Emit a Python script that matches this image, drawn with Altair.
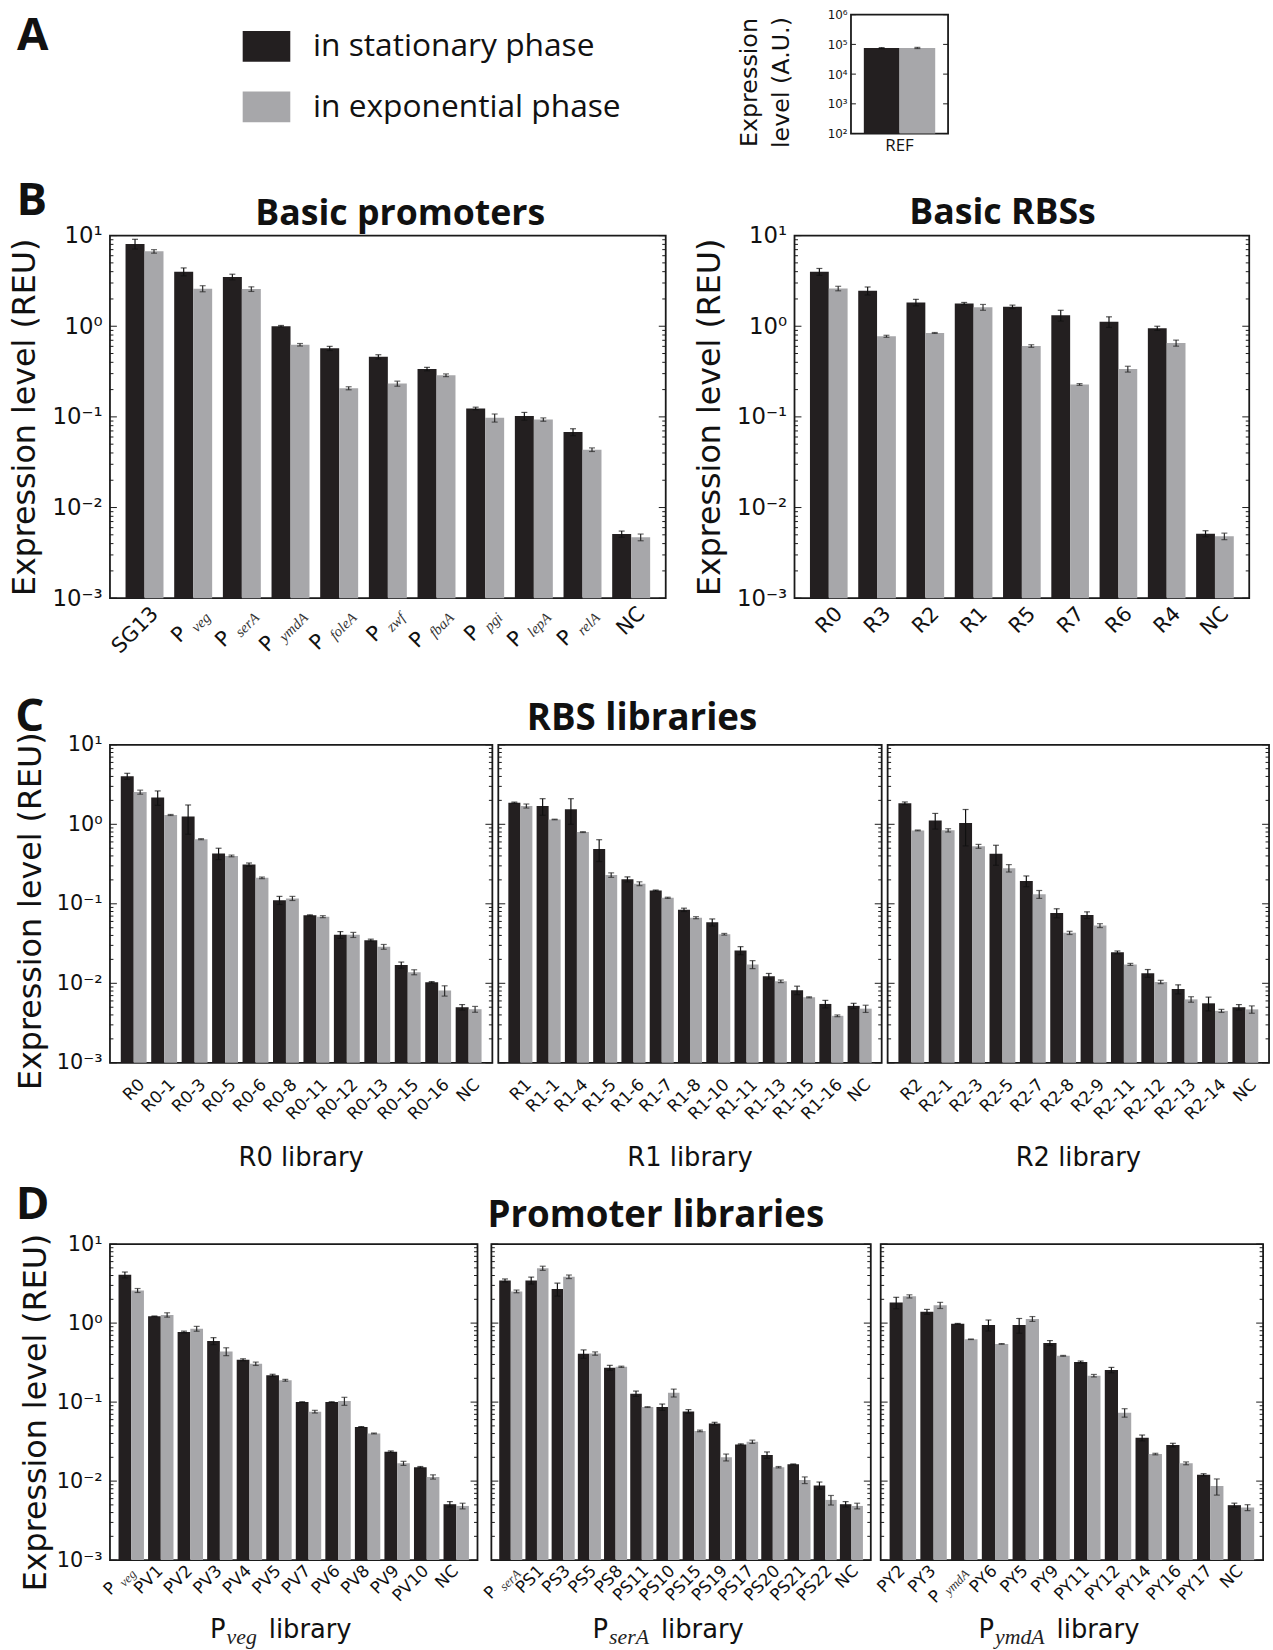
import altair as alt
import pandas as pd

# ---------------------------------------------------------------- data
PHASES = ["in stationary phase", "in exponential phase"]
BAR_COLORS = ["#231f20", "#a7a7aa"]
ERR_COLORS = ["#111111", "#2a2a2a"]
FRAME_COLOR = "#1a1a1a"

Y_TICKS = [0.001, 0.01, 0.1, 1, 10]
Y_TICK_LABELS = ["10⁻³", "10⁻²", "10⁻¹", "10⁰", "10¹"]
REF_TICKS = [1e2, 1e3, 1e4, 1e5, 1e6]
REF_TICK_LABELS = ["10²", "10³", "10⁴", "10⁵", "10⁶"]

# A: reference construct
ref_cats = ["REF"]
ref_stat = [75000]
ref_stat_err = [3000]
ref_expo = [76000]
ref_expo_err = [3500]

# B: basic promoters
bp_cats = ["SG13", "Pveg", "PserA", "PymdA", "PfoleA", "Pzwf", "PfbaA", "Ppgi", "PlepA", "PrelA", "NC"]
bp_main = ["SG13", "P", "P", "P", "P", "P", "P", "P", "P", "P", "NC"]
bp_sub = ["", "veg", "serA", "ymdA", "foleA", "zwf", "fbaA", "pgi", "lepA", "relA", ""]
bp_stat = [8.1, 4.0, 3.5, 1.0, 0.57, 0.46, 0.337, 0.124, 0.102, 0.068, 0.0051]
bp_stat_err = [1.0, 0.4, 0.25, 0.02, 0.03, 0.025, 0.015, 0.004, 0.01, 0.006, 0.0004]
bp_expo = [6.7, 2.6, 2.57, 0.625, 0.207, 0.233, 0.288, 0.0976, 0.0935, 0.0435, 0.0047]
bp_expo_err = [0.3, 0.2, 0.15, 0.02, 0.008, 0.015, 0.01, 0.01, 0.004, 0.002, 0.0004]

# B: basic RBSs
br_cats = ["R0", "R3", "R2", "R1", "R5", "R7", "R6", "R4", "NC"]
br_stat = [3.99, 2.46, 1.83, 1.78, 1.64, 1.32, 1.12, 0.95, 0.00515]
br_stat_err = [0.35, 0.25, 0.15, 0.05, 0.07, 0.18, 0.15, 0.05, 0.0004]
br_expo = [2.61, 0.775, 0.843, 1.62, 0.605, 0.228, 0.337, 0.653, 0.00482]
br_expo_err = [0.15, 0.02, 0.01, 0.12, 0.02, 0.005, 0.025, 0.05, 0.0004]

# C: RBS libraries
c0_cats = ["R0", "R0-1", "R0-3", "R0-5", "R0-6", "R0-8", "R0-11", "R0-12", "R0-13", "R0-15", "R0-16", "NC"]
c0_stat = [4.03, 2.18, 1.25, 0.43, 0.311, 0.111, 0.0716, 0.0407, 0.0349, 0.017, 0.0103, 0.0050]
c0_stat_err = [0.35, 0.45, 0.5, 0.07, 0.015, 0.013, 0.001, 0.004, 0.001, 0.0015, 0.0002, 0.0004]
c0_expo = [2.54, 1.31, 0.65, 0.40, 0.212, 0.117, 0.0689, 0.0407, 0.0288, 0.0138, 0.0081, 0.00472]
c0_expo_err = [0.15, 0.02, 0.01, 0.01, 0.005, 0.007, 0.002, 0.003, 0.002, 0.001, 0.0012, 0.0004]

c1_cats = ["R1", "R1-1", "R1-4", "R1-5", "R1-6", "R1-7", "R1-8", "R1-10", "R1-11", "R1-13", "R1-15", "R1-16", "NC"]
c1_stat = [1.87, 1.70, 1.55, 0.49, 0.203, 0.147, 0.0841, 0.0585, 0.0259, 0.0123, 0.0082, 0.0055, 0.0052]
c1_stat_err = [0.03, 0.4, 0.55, 0.15, 0.015, 0.002, 0.004, 0.006, 0.003, 0.001, 0.001, 0.0006, 0.0004]
c1_expo = [1.70, 1.15, 0.798, 0.230, 0.179, 0.119, 0.0669, 0.0414, 0.0173, 0.0106, 0.00666, 0.0039, 0.0048]
c1_expo_err = [0.1, 0.01, 0.01, 0.015, 0.01, 0.002, 0.002, 0.001, 0.002, 0.0004, 0.0001, 0.0001, 0.0005]

c2_cats = ["R2", "R2-1", "R2-3", "R2-5", "R2-7", "R2-8", "R2-9", "R2-11", "R2-12", "R2-13", "R2-14", "NC"]
c2_stat = [1.84, 1.12, 1.035, 0.425, 0.194, 0.0766, 0.0722, 0.0245, 0.0134, 0.00846, 0.0056, 0.0050]
c2_stat_err = [0.07, 0.25, 0.5, 0.12, 0.03, 0.01, 0.007, 0.001, 0.0015, 0.0011, 0.0011, 0.0004]
c2_expo = [0.838, 0.84, 0.529, 0.281, 0.132, 0.0431, 0.0532, 0.0173, 0.0104, 0.00628, 0.0045, 0.0047]
c2_expo_err = [0.01, 0.04, 0.03, 0.03, 0.015, 0.002, 0.003, 0.0005, 0.0005, 0.0005, 0.0002, 0.0005]

# D: promoter libraries
d0_cats = ["Pveg", "PV1", "PV2", "PV3", "PV4", "PV5", "PV7", "PV6", "PV8", "PV9", "PV10", "NC"]
d0_main = ["P", "PV1", "PV2", "PV3", "PV4", "PV5", "PV7", "PV6", "PV8", "PV9", "PV10", "NC"]
d0_sub = ["veg", "", "", "", "", "", "", "", "", "", "", ""]
d0_stat = [4.08, 1.22, 0.771, 0.594, 0.343, 0.218, 0.100, 0.100, 0.0485, 0.0236, 0.0150, 0.0051]
d0_stat_err = [0.35, 0.01, 0.02, 0.06, 0.01, 0.007, 0.001, 0.001, 0.0005, 0.0005, 0.0003, 0.0004]
d0_expo = [2.59, 1.27, 0.849, 0.437, 0.306, 0.189, 0.0757, 0.103, 0.0401, 0.0168, 0.0113, 0.00485]
d0_expo_err = [0.15, 0.08, 0.06, 0.05, 0.015, 0.005, 0.003, 0.012, 0.0005, 0.001, 0.0007, 0.0004]

d1_cats = ["PserA", "PS1", "PS3", "PS5", "PS8", "PS11", "PS10", "PS15", "PS19", "PS17", "PS20", "PS21", "PS22", "NC"]
d1_main = ["P", "PS1", "PS3", "PS5", "PS8", "PS11", "PS10", "PS15", "PS19", "PS17", "PS20", "PS21", "PS22", "NC"]
d1_sub = ["serA", "", "", "", "", "", "", "", "", "", "", "", "", ""]
d1_stat = [3.47, 3.47, 2.70, 0.408, 0.272, 0.128, 0.0865, 0.0763, 0.0535, 0.0291, 0.0214, 0.0163, 0.00883, 0.0051]
d1_stat_err = [0.15, 0.35, 0.5, 0.05, 0.02, 0.01, 0.008, 0.004, 0.002, 0.0005, 0.002, 0.0002, 0.0009, 0.0004]
d1_expo = [2.52, 4.95, 3.86, 0.412, 0.280, 0.0865, 0.131, 0.0432, 0.020, 0.0315, 0.0150, 0.0103, 0.00578, 0.00485]
d1_expo_err = [0.1, 0.3, 0.2, 0.02, 0.005, 0.001, 0.015, 0.001, 0.002, 0.0015, 0.0003, 0.001, 0.0008, 0.0004]

d2_cats = ["PY2", "PY3", "PymdA", "PY6", "PY5", "PY9", "PY11", "PY12", "PY14", "PY16", "PY17", "NC"]
d2_main = ["PY2", "PY3", "P", "PY6", "PY5", "PY9", "PY11", "PY12", "PY14", "PY16", "PY17", "NC"]
d2_sub = ["", "", "ymdA", "", "", "", "", "", "", "", "", ""]
d2_stat = [1.82, 1.39, 0.98, 0.944, 0.944, 0.561, 0.321, 0.255, 0.0353, 0.0286, 0.0120, 0.00496]
d2_stat_err = [0.3, 0.1, 0.01, 0.15, 0.2, 0.04, 0.01, 0.02, 0.003, 0.0015, 0.0004, 0.0003]
d2_expo = [2.18, 1.68, 0.624, 0.545, 1.13, 0.385, 0.216, 0.0735, 0.0220, 0.0168, 0.00865, 0.00463]
d2_expo_err = [0.1, 0.15, 0.005, 0.005, 0.08, 0.005, 0.008, 0.009, 0.0005, 0.0007, 0.002, 0.0004]

# ---------------------------------------------------------------- helpers
ONE = pd.DataFrame({"k": [0]})
SERIF_IT = dict(a=.5, b=.5, c=.444, d=.5, e=.444, f=.278, g=.5, h=.5, i=.278, j=.278, k=.444,
                l=.278, m=.722, n=.5, o=.5, p=.5, q=.5, r=.389, s=.389, t=.278, u=.5, v=.444,
                w=.667, x=.444, y=.444, z=.389, A=.611)


def sub_width(s, fs):
    return sum(SERIF_IT.get(ch, .5) for ch in s) * fs


def sup_expr(vals, labs):
    parts = [f"datum.value < {v * 3:g} ? '{l}'" for v, l in zip(vals[:-1], labs[:-1])]
    return " : ".join(parts) + f" : '{labs[-1]}'"


def note(text, x, y, font="Open Sans", size=20, weight="normal", align="center",
         baseline="alphabetic", color="#111", style="normal"):
    return alt.Chart(ONE).mark_text(text=text, font=font, fontSize=size, fontWeight=weight,
                                    align=align, baseline=baseline, color=color,
                                    fontStyle=style).encode(x=alt.value(x), y=alt.value(y))


def long_df(cats, stat, stat_err, expo, expo_err):
    recs = []
    for c, v1, e1, v2, e2 in zip(cats, stat, stat_err, expo, expo_err):
        recs.append({"cat": c, "phase": PHASES[0], "val": v1, "lo": v1 - e1, "hi": v1 + e1})
        recs.append({"cat": c, "phase": PHASES[1], "val": v2, "lo": v2 - e2, "hi": v2 + e2})
    return pd.DataFrame(recs)


def bar_layers(df, X, ysc, yaxis, step, pair_frac, base_val):
    """Grouped bars (stationary left, exponential right) with error bars."""
    bw = step * pair_frac / 2
    out = []
    for k, ph in enumerate(PHASES):
        off = (k - 0.5) * bw
        sub = alt.Chart(df).transform_filter(alt.datum.phase == ph)
        out.append(sub.mark_bar(size=bw, xOffset=off, color=BAR_COLORS[k]).encode(
            x=X, y=alt.Y("val:Q", scale=ysc, axis=yaxis), y2=alt.Y2Datum(base_val)))
        out.append(sub.mark_rule(xOffset=off, color=ERR_COLORS[k], strokeWidth=1.2).encode(
            x=X, y=alt.Y("lo:Q", scale=ysc, axis=yaxis), y2="hi:Q"))
        for fld in ("lo", "hi"):
            out.append(sub.mark_tick(xOffset=off, color=ERR_COLORS[k], size=6, thickness=1.2).encode(
                x=X, y=alt.Y(f"{fld}:Q", scale=ysc, axis=yaxis)))
    return out


def tick_layers(ysc, yaxis, W, major, minor, Lmaj=7, Lmin=3.5):
    tdf = pd.DataFrame({"v": major + minor, "kind": ["major"] * len(major) + ["minor"] * len(minor)})
    out = []
    kinds = (("major", Lmaj), ("minor", Lmin)) if minor else (("major", Lmaj),)
    for kind, L in kinds:
        c = alt.Chart(tdf).transform_filter(alt.datum.kind == kind)
        Y = alt.Y("v:Q", scale=ysc, axis=yaxis)
        out.append(c.mark_rule(color=FRAME_COLOR, strokeWidth=1).encode(y=Y, x=alt.value(0), x2=alt.value(L)))
        out.append(c.mark_rule(color=FRAME_COLOR, strokeWidth=1).encode(y=Y, x=alt.value(W), x2=alt.value(W - L)))
    return out


def y_axis(fs, title_fs, title_x, title_y):
    return alt.Axis(values=Y_TICKS, labelExpr=sup_expr(Y_TICKS, Y_TICK_LABELS), ticks=False,
                    domain=False, grid=False, labelFont="DejaVu Sans", labelFontSize=fs,
                    labelColor="#111", labelPadding=8, labelFlush=False,
                    title="Expression level (REU)", titleFont="DejaVu Sans",
                    titleFontSize=title_fs, titleFontWeight="normal", titleColor="#111",
                    titleX=title_x, titleY=title_y, titleAngle=270, titleAlign="center",
                    titleBaseline="alphabetic")


MINOR = [m * 10.0 ** e for e in range(-3, 1) for m in range(2, 10)]


def bar_panel(cats, mains, subs, stat, stat_err, expo, expo_err, W, H, pad_x, pair_frac,
              lab_fs, sub_fs, lab_ax, lab_ay, sub_drop, yaxis=None, notes=()):
    df = long_df(cats, stat, stat_err, expo, expo_err)
    step = W / (len(cats) + 2 * pad_x)
    xsc = alt.Scale(domain=cats, paddingInner=0, paddingOuter=pad_x)
    ysc = alt.Scale(type="log", domain=[Y_TICKS[0], Y_TICKS[-1]], nice=False)
    X = alt.X("cat:N", scale=xsc, axis=None)
    layers = bar_layers(df, X, ysc, yaxis, step, pair_frac, Y_TICKS[0])
    layers += tick_layers(ysc, yaxis, W, Y_TICKS, MINOR)
    ldf = pd.DataFrame({"cat": cats, "main": mains, "sub": subs})
    dx0 = lab_ax * 1.4142
    yv = H + lab_ay + lab_ax
    for s in dict.fromkeys(subs):
        shift = (sub_width(s, sub_fs) + 0.35 * lab_fs) if s else 0
        layers.append(alt.Chart(ldf).transform_filter(alt.datum.sub == s).mark_text(
            angle=315, align="right", baseline="alphabetic", dx=dx0 - shift,
            font="DejaVu Sans", fontSize=lab_fs, color="#111").encode(
            x=X, y=alt.value(yv), text="main:N"))
    if any(subs):
        layers.append(alt.Chart(ldf).transform_filter(alt.datum.sub != "").mark_text(
            angle=315, align="right", baseline="alphabetic", dx=dx0, dy=sub_drop,
            font="Liberation Serif", fontStyle="italic", fontSize=sub_fs, color="#333").encode(
            x=X, y=alt.value(yv), text="sub:N"))
    layers += list(notes)
    return alt.layer(*layers).properties(
        width=W, height=H, view=alt.ViewBackground(stroke=FRAME_COLOR, strokeWidth=1.8))


def lib_title_c(text, W, H):
    return [note(text, W / 2, H + 104, font="DejaVu Sans", size=26)]


def lib_title_d(sub, W, H):
    wP = 0.603 * 26
    wsub = sub_width(sub, 22)
    wlib = 3.218 * 26
    total = wP + 1 + wsub + 12 + wlib
    left = W / 2 - total / 2 - 13
    return [
        note("P", left, H + 79, font="DejaVu Sans", size=26, align="left"),
        note(sub, left + wP + 1, H + 85, font="Liberation Serif", size=22, align="left",
             style="italic", color="#222"),
        note("library", left + wP + 1 + wsub + 12, H + 79, font="DejaVu Sans", size=26, align="left"),
    ]


# ---------------------------------------------------------------- sizes
A_H, B_H, C_H, D_H = 117, 366, 321, 319
REF_H = 120
BL_W, BR_W = 561, 459
C_W = [386, 387, 385]
D_W = [371, 383, 386]
LEG_W = 628
REF_W = 98
Y_FS, YT_FS = 23, 32

# ---------------------------------------------------------------- row A
leg_df = pd.DataFrame({"phase": PHASES})
leg_y = alt.Y("phase:N", scale=alt.Scale(type="point", domain=PHASES, range=[32, 93], padding=0), axis=None)
legend = alt.layer(
    alt.Chart(ONE).mark_rule(opacity=0).encode(x=alt.value(0), x2=alt.value(LEG_W), y=alt.value(60)),
    alt.Chart(leg_df).mark_point(shape="M-1.55,-1H1.55V1H-1.55Z", filled=True, size=961, opacity=1).encode(
        x=alt.value(158), y=leg_y,
        color=alt.Color("phase:N", scale=alt.Scale(domain=PHASES, range=BAR_COLORS), legend=None)),
    alt.Chart(leg_df).mark_text(align="left", baseline="middle", font="Open Sans", fontSize=32,
                                color="#111").encode(x=alt.value(205), y=leg_y, text="phase:N"),
    note("A", -78, 22, font="Open Sans", size=46, weight="bold", baseline="middle"),
).properties(width=LEG_W, height=A_H)

ref_df = long_df(ref_cats, ref_stat, ref_stat_err, ref_expo, ref_expo_err)
ref_ysc = alt.Scale(type="log", domain=[REF_TICKS[0], REF_TICKS[-1]], nice=False)
ref_X = alt.X("cat:N", scale=alt.Scale(domain=ref_cats, paddingInner=0, paddingOuter=0.18),
              axis=alt.Axis(title=None, labelAngle=0, ticks=False, domain=False, labelFont="Open Sans",
                            labelFontSize=17, labelPadding=4, labelColor="#111"))
ref_axis = alt.Axis(values=REF_TICKS, labelExpr=sup_expr(REF_TICKS, REF_TICK_LABELS), ticks=False,
                    domain=False, grid=False, labelFont="DejaVu Sans", labelFontSize=12,
                    labelColor="#111", labelPadding=4, labelFlush=False,
                    title=["Expression", "level (A.U.)"], titleFont="DejaVu Sans", titleFontSize=24,
                    titleFontWeight="normal", titleColor="#111", titleLineHeight=32,
                    titleX=-114, titleY=68, titleAngle=270, titleAlign="center", titleBaseline="top")
ref_step = REF_W / (1 + 2 * 0.18)
ref_chart = alt.layer(
    *bar_layers(ref_df, ref_X, ref_ysc, ref_axis, ref_step, 1.0, REF_TICKS[0]),
    *tick_layers(ref_ysc, ref_axis, REF_W, REF_TICKS, [], Lmaj=5),
).properties(width=REF_W, height=REF_H, view=alt.ViewBackground(stroke=FRAME_COLOR, strokeWidth=1.8))

# ---------------------------------------------------------------- row B
b_left = bar_panel(bp_cats, bp_main, bp_sub, bp_stat, bp_stat_err, bp_expo, bp_expo_err,
                   BL_W, B_H, 0.21, 0.78, 21, 15, 15, 17, 5,
                   yaxis=y_axis(Y_FS, YT_FS, -76, B_H / 2),
                   notes=[note("Basic promoters", 293, -11, size=36, weight="bold"),
                          note("B", -79, -35, size=46, weight="bold", baseline="middle")])
b_right = bar_panel(br_cats, br_cats, [""] * len(br_cats), br_stat, br_stat_err, br_expo, br_expo_err,
                    BR_W, B_H, 0.21, 0.78, 21, 15, 15, 17, 5,
                    yaxis=y_axis(Y_FS, YT_FS, -76, B_H / 2),
                    notes=[note("Basic RBSs", 210, -12, size=36, weight="bold")])

# ---------------------------------------------------------------- row C
c_panels = []
for i, (cats, st, ste, ex, exe, lib) in enumerate([
        (c0_cats, c0_stat, c0_stat_err, c0_expo, c0_expo_err, "R0 library"),
        (c1_cats, c1_stat, c1_stat_err, c1_expo, c1_expo_err, "R1 library"),
        (c2_cats, c2_stat, c2_stat_err, c2_expo, c2_expo_err, "R2 library")]):
    W = C_W[i]
    notes = lib_title_c(lib, W, C_H)
    if i == 0:
        notes.append(note("C", -81, -28, size=46, weight="bold", baseline="middle"))
    if i == 1:
        notes.append(note("RBS libraries", 145, -15, size=37, weight="bold"))
    c_panels.append(bar_panel(cats, cats, [""] * len(cats), st, ste, ex, exe, W, C_H, 0.28, 0.85,
                              17, 13, 12, 23, 4,
                              yaxis=y_axis(21, YT_FS, -70, C_H / 2 + 7) if i == 0 else None,
                              notes=notes))

# ---------------------------------------------------------------- row D
d_panels = []
d_pads = [(0.22, 0.86), (0.24, 0.88), (0.22, 0.86)]
d_ax = [3, 8, 3]
for i, (cats, mains, subs, st, ste, ex, exe, libsub) in enumerate([
        (d0_cats, d0_main, d0_sub, d0_stat, d0_stat_err, d0_expo, d0_expo_err, "veg"),
        (d1_cats, d1_main, d1_sub, d1_stat, d1_stat_err, d1_expo, d1_expo_err, "serA"),
        (d2_cats, d2_main, d2_sub, d2_stat, d2_stat_err, d2_expo, d2_expo_err, "ymdA")]):
    W = D_W[i]
    notes = lib_title_d(libsub, W, D_H)
    if i == 0:
        notes.append(note("D", -78, -39, size=46, weight="bold", baseline="middle"))
    if i == 1:
        notes.append(note("Promoter libraries", 166, -17, size=37, weight="bold"))
    d_panels.append(bar_panel(cats, mains, subs, st, ste, ex, exe, W, D_H, d_pads[i][0], d_pads[i][1],
                              17, 13, d_ax[i], 12, 4,
                              yaxis=y_axis(21, YT_FS, -65, D_H / 2 + 10) if i == 0 else None,
                              notes=notes))

# ---------------------------------------------------------------- layout
row_a = alt.hconcat(legend, ref_chart, spacing=4)
row_b = alt.hconcat(b_left, b_right, spacing=25)
row_c = alt.hconcat(*c_panels, spacing=2)
row_d = alt.hconcat(*d_panels, spacing=0)

top = alt.vconcat(row_a, row_b, spacing=23)
bottom = alt.vconcat(row_c, row_d, spacing=10)

chart = alt.vconcat(top, bottom, spacing=35).properties(
    padding={"left": 8, "top": 0, "right": 2, "bottom": 2}, background="white"
).configure(font="DejaVu Sans", view=alt.ViewConfig(stroke="transparent"))

chart.save("out.html", embed_options={"renderer": "svg", "actions": False})
